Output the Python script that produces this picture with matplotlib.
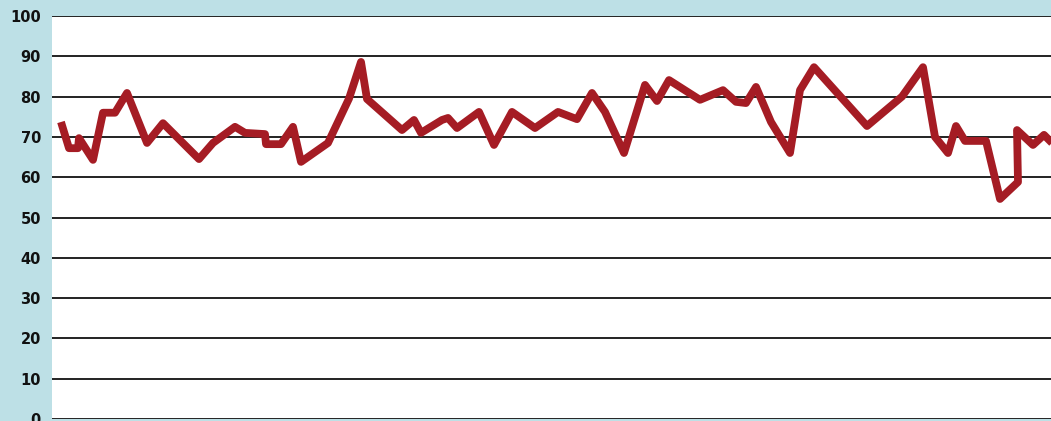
import matplotlib

matplotlib.use("Agg")
import matplotlib.pyplot as plt

# time position (days from start) and value
days = [
    9, 17, 26, 27, 41, 51, 63, 75, 95, 111, 147, 161, 183, 193, 213, 214, 229,
    241, 249, 276, 297, 309, 315, 350, 362, 369, 390, 396, 405, 427, 442, 460,
    483, 506, 525, 540, 553, 572, 593, 605, 617, 648, 671, 684, 694, 704, 719,
    738, 748, 762, 815, 850, 871, 883, 896, 904, 913, 934, 948, 966, 965, 981,
    992, 1004,
]
values = [
    73.7, 67.2, 67.2, 69.7, 64.3, 76.0, 76.0, 80.9, 68.5, 73.4, 64.5, 68.5,
    72.5, 71.0, 70.7, 68.2, 68.2, 72.5, 63.8, 68.5, 79.5, 88.6, 79.4, 71.7,
    74.2, 71.0, 74.2, 74.7, 72.2, 76.2, 68.0, 76.2, 72.2, 76.2, 74.4, 80.9,
    76.2, 66.0, 82.9, 78.9, 84.1, 79.2, 81.6, 78.7, 78.4, 82.4, 73.7, 66.0,
    81.6, 87.3, 72.7, 80.0, 87.3, 70.0, 66.0, 72.7, 69.0, 69.0, 54.6, 58.8,
    71.7, 68.0, 70.5, 67.5,
]
y_ticks = [0, 10, 20, 30, 40, 50, 60, 70, 80, 90, 100]

bg = "#bde0e6"
line_color = "#a51c24"

fig = plt.figure(figsize=(10.51, 4.21), dpi=100, facecolor=bg)
ax = fig.add_axes([52 / 1051, 2 / 421, 1 - 52 / 1051, 403 / 421])
ax.set_facecolor("white")

ax.plot(days, values, color=line_color, lw=5.6, solid_joinstyle="round",
        solid_capstyle="butt", zorder=3)

ax.set_xlim(0, 999)
ax.set_ylim(0, 100)
ax.set_yticks(y_ticks)
ax.set_yticklabels([str(t) for t in y_ticks], fontsize=10.5, fontweight="bold",
                   color="#111111")
ax.set_xticks([])
ax.tick_params(axis="y", length=0, pad=8)
ax.grid(axis="y", color="#222222", lw=1.4)
ax.set_axisbelow(True)
for s in ax.spines.values():
    s.set_visible(False)

fig.savefig("out.png", dpi=100, facecolor=bg)
